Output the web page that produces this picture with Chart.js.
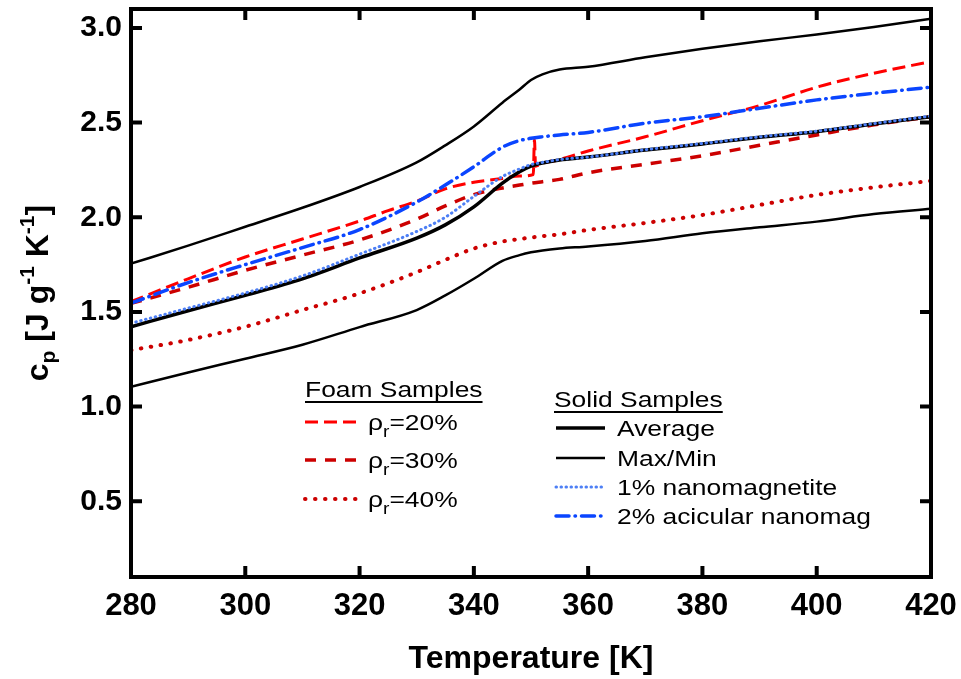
<!DOCTYPE html>
<html>
<head>
<meta charset="utf-8">
<script src="https://cdn.jsdelivr.net/npm/chart.js@4.4.1/dist/chart.umd.min.js"></script>
<style>
  html, body { margin: 0; padding: 0; background: #fff; }
  #wrap { width: 961px; height: 679px; }
</style>
</head>
<body>
<div id="wrap"><canvas id="cpChart" width="961" height="679"></canvas></div>
<script>
// temperature grid shared by most curves [K]
const temps = [280, 290, 300, 310, 320, 330, 335, 340, 345, 348, 350, 352, 355, 360, 370, 380, 390, 400, 410, 420];

// solid samples, cp [J g-1 K-1]
const cpMax = [1.755, 1.85, 1.95, 2.05, 2.16, 2.29, 2.38, 2.48, 2.605, 2.675, 2.725, 2.755, 2.78, 2.795, 2.845, 2.89, 2.93, 2.965, 3.005, 3.048];
const cpMin = [1.105, 1.18, 1.253, 1.327, 1.42, 1.51, 1.587, 1.675, 1.77, 1.80, 1.815, 1.825, 1.835, 1.846, 1.875, 1.915, 1.947, 1.977, 2.017, 2.045];
const cpAvg = [1.422, 1.506, 1.588, 1.675, 1.785, 1.89, 1.96, 2.055, 2.18, 2.24, 2.27, 2.287, 2.303, 2.318, 2.355, 2.387, 2.423, 2.452, 2.493, 2.531];
const cpNano1 = [1.44, 1.52, 1.60, 1.69, 1.805, 1.925, 2.00, 2.11, 2.215, 2.255, 2.278, 2.29, 2.305, 2.318, 2.357, 2.39, 2.425, 2.455, 2.495, 2.535];
const cpNano2 = [1.546, 1.655, 1.75, 1.84, 1.935, 2.08, 2.17, 2.267, 2.37, 2.405, 2.417, 2.425, 2.435, 2.448, 2.497, 2.531, 2.576, 2.62, 2.655, 2.687];

// foam samples
const cpFoam30 = [1.545, 1.63, 1.72, 1.80, 1.88, 1.99, 2.06, 2.12, 2.155, 2.17, 2.18, 2.188, 2.20, 2.235, 2.28, 2.325, 2.38, 2.435, 2.488, 2.531];
const cpFoam40 = [1.298, 1.352, 1.422, 1.51, 1.598, 1.71, 1.775, 1.835, 1.872, 1.885, 1.893, 1.90, 1.91, 1.933, 1.97, 2.012, 2.065, 2.118, 2.158, 2.192];
// the 20% run has its own grid (glitch near 350 K)
const tempsFoam20 = [280, 285, 290, 300, 310, 320, 325, 330, 335, 340, 345, 348, 350.4, 350.6, 350.8, 352, 355, 360, 370, 380, 390, 400, 410, 420];
const cpFoam20 = [1.554, 1.615, 1.675, 1.79, 1.885, 1.98, 2.035, 2.085, 2.15, 2.185, 2.205, 2.218, 2.226, 2.41, 2.27, 2.285, 2.305, 2.35, 2.425, 2.51, 2.59, 2.687, 2.761, 2.822];

const foamDensities = ['20%', '30%', '40%'];
const solidLabels = ['Average', 'Max/Min', '1% nanomagnetite', '2% acicular nanomag'];

const xTicks = [280, 300, 320, 340, 360, 380, 400, 420];
const yTicks = [0.5, 1.0, 1.5, 2.0, 2.5, 3.0];

const FONT = '"Liberation Sans", Arial, Helvetica, sans-serif';

function pts(xs, ys) {
  return xs.map((x, i) => ({ x: x, y: ys[i] }));
}

// line styles
const sFoam20 = { borderColor: '#ff0000', borderWidth: 3, borderDash: [13, 6], borderCapStyle: 'butt' };
const sFoam30 = { borderColor: '#cc0000', borderWidth: 3.5, borderDash: [11, 9], borderCapStyle: 'butt' };
const sFoam40 = { borderColor: '#cc0000', borderWidth: 4, borderDash: [0.5, 9.5], borderCapStyle: 'round' };
const sAvg = { borderColor: '#000000', borderWidth: 3.5, borderDash: [], borderCapStyle: 'butt' };
const sMaxMin = { borderColor: '#000000', borderWidth: 2.5, borderDash: [], borderCapStyle: 'butt' };
const sNano1 = { borderColor: '#4d7ff5', borderWidth: 3, borderDash: [0.5, 4.5], borderCapStyle: 'round' };
const sNano2 = { borderColor: '#0a45ff', borderWidth: 3.5, borderDash: [13, 6, 0.5, 6], borderCapStyle: 'round' };

// plot frame with inward ticks on all four sides
const framePlugin = {
  id: 'frame',
  afterDatasetsDraw(chart) {
    const { ctx, chartArea: a, scales } = chart;
    const x = scales.x, y = scales.y;
    ctx.save();
    ctx.strokeStyle = '#000';
    ctx.lineWidth = 4;
    ctx.setLineDash([]);
    ctx.strokeRect(a.left, a.top, a.right - a.left, a.bottom - a.top);
    ctx.beginPath();
    xTicks.forEach(v => {
      const px = x.getPixelForValue(v);
      ctx.moveTo(px, a.bottom); ctx.lineTo(px, a.bottom - 11);
      ctx.moveTo(px, a.top); ctx.lineTo(px, a.top + 11);
    });
    yTicks.forEach(v => {
      const py = y.getPixelForValue(v);
      ctx.moveTo(a.left, py); ctx.lineTo(a.left + 11, py);
      ctx.moveTo(a.right, py); ctx.lineTo(a.right - 11, py);
    });
    ctx.stroke();
    ctx.restore();
  }
};

// writes a run of text pieces (sub/superscripts), returns width
function textRun(ctx, parts, x, y, bold, stretch) {
  ctx.save();
  ctx.translate(x, y);
  ctx.scale(stretch, 1);
  let cx = 0;
  parts.forEach(p => {
    ctx.font = (bold ? 'bold ' : '') + p.size + 'px ' + FONT;
    ctx.fillText(p.text, cx, p.dy || 0);
    cx += ctx.measureText(p.text).width;
  });
  ctx.restore();
  return cx * stretch;
}

function sample(ctx, st, x0, x1, yy) {
  ctx.save();
  ctx.strokeStyle = st.borderColor;
  ctx.lineWidth = st.borderWidth;
  ctx.setLineDash(st.borderDash);
  ctx.lineCap = st.borderCapStyle;
  ctx.beginPath();
  ctx.moveTo(x0, yy);
  ctx.lineTo(x1, yy);
  ctx.stroke();
  ctx.restore();
}

function header(ctx, text, x, y) {
  const w = textRun(ctx, [{ text: text, size: 22 }], x, y, false, 1.2);
  ctx.fillRect(x, y + 4, w, 2);
}

// axis titles and the two-part legend
const annotatePlugin = {
  id: 'annotate',
  afterDraw(chart) {
    const { ctx, chartArea: a } = chart;
    ctx.save();
    ctx.fillStyle = '#000';
    ctx.textBaseline = 'alphabetic';
    ctx.textAlign = 'left';

    // x title
    ctx.font = 'bold 32px ' + FONT;
    ctx.textAlign = 'center';
    ctx.fillText('Temperature [K]', (a.left + a.right) / 2, 668);
    ctx.textAlign = 'left';

    // y title, rotated, with sub/superscripts
    const yParts = [
      { text: 'c', size: 32 },
      { text: 'p', size: 21, dy: 7 },
      { text: ' [J g', size: 32 },
      { text: '-1', size: 21, dy: -14 },
      { text: ' K', size: 32 },
      { text: '-1', size: 21, dy: -14 },
      { text: ']', size: 32 }
    ];
    let total = 0;
    yParts.forEach(p => { ctx.font = 'bold ' + p.size + 'px ' + FONT; total += ctx.measureText(p.text).width; });
    ctx.save();
    ctx.translate(48, (a.top + a.bottom) / 2);
    ctx.rotate(-Math.PI / 2);
    textRun(ctx, yParts, -total / 2, 0, true, 1);
    ctx.restore();

    // foam legend
    header(ctx, 'Foam Samples', 305, 397);
    const foamStyles = [sFoam20, sFoam30, sFoam40];
    const foamRows = [422, 460, 499];
    foamDensities.forEach((d, i) => {
      sample(ctx, foamStyles[i], 305, 357, foamRows[i]);
      textRun(ctx, [
        { text: 'ρ', size: 22 },
        { text: 'r', size: 16, dy: 7 },
        { text: '=' + d, size: 22 }
      ], 368, foamRows[i] + 8, false, 1.2);
    });

    // solid legend
    header(ctx, 'Solid Samples', 554, 407);
    const solidStyles = [sAvg, sMaxMin, sNano1, sNano2];
    const solidRows = [428, 458, 487, 516];
    solidLabels.forEach((t, i) => {
      sample(ctx, solidStyles[i], 556, 605, solidRows[i]);
      textRun(ctx, [{ text: t, size: 22 }], 617, solidRows[i] + 8, false, 1.2);
    });
    ctx.restore();
  }
};

function line(label, data, st, order) {
  return Object.assign({
    label: label,
    data: data,
    order: order,
    fill: false,
    pointRadius: 0,
    cubicInterpolationMode: 'monotone'
  }, st);
}

new Chart(document.getElementById('cpChart'), {
  type: 'line',
  data: {
    datasets: [
      line('1% nanomagnetite', pts(temps, cpNano1), sNano1, 1),
      line('Average', pts(temps, cpAvg), sAvg, 2),
      line('2% acicular nanomag', pts(temps, cpNano2), sNano2, 3),
      line('ρr=20%', pts(tempsFoam20, cpFoam20), sFoam20, 4),
      line('ρr=30%', pts(temps, cpFoam30), sFoam30, 5),
      line('ρr=40%', pts(temps, cpFoam40), sFoam40, 6),
      line('Max', pts(temps, cpMax), sMaxMin, 7),
      line('Min', pts(temps, cpMin), sMaxMin, 8)
    ]
  },
  options: {
    responsive: false,
    animation: false,
    devicePixelRatio: 1,
    layout: { padding: { top: 9, right: 30, left: 0, bottom: 0 } },
    plugins: { legend: { display: false }, tooltip: { enabled: false } },
    scales: {
      x: {
        type: 'linear',
        min: 280,
        max: 420,
        grid: { display: false, drawTicks: false },
        border: { display: false },
        afterBuildTicks: s => { s.ticks = xTicks.map(v => ({ value: v })); },
        afterFit: s => { s.height = 102; s.paddingLeft = 0; s.paddingRight = 0; },
        ticks: {
          autoSkip: false,
          maxRotation: 0,
          padding: 11,
          color: '#000',
          font: { family: FONT, size: 31, weight: 'bold' }
        }
      },
      y: {
        type: 'linear',
        min: 0.1,
        max: 3.1,
        grid: { display: false, drawTicks: false },
        border: { display: false },
        afterBuildTicks: s => { s.ticks = yTicks.map(v => ({ value: v })); },
        afterFit: s => { s.width = 131; s.paddingTop = 0; s.paddingBottom = 0; },
        ticks: {
          autoSkip: false,
          padding: 9,
          color: '#000',
          font: { family: FONT, size: 30, weight: 'bold' },
          callback: v => Number(v).toFixed(1)
        }
      }
    }
  },
  plugins: [framePlugin, annotatePlugin]
});
</script>
</body>
</html>
